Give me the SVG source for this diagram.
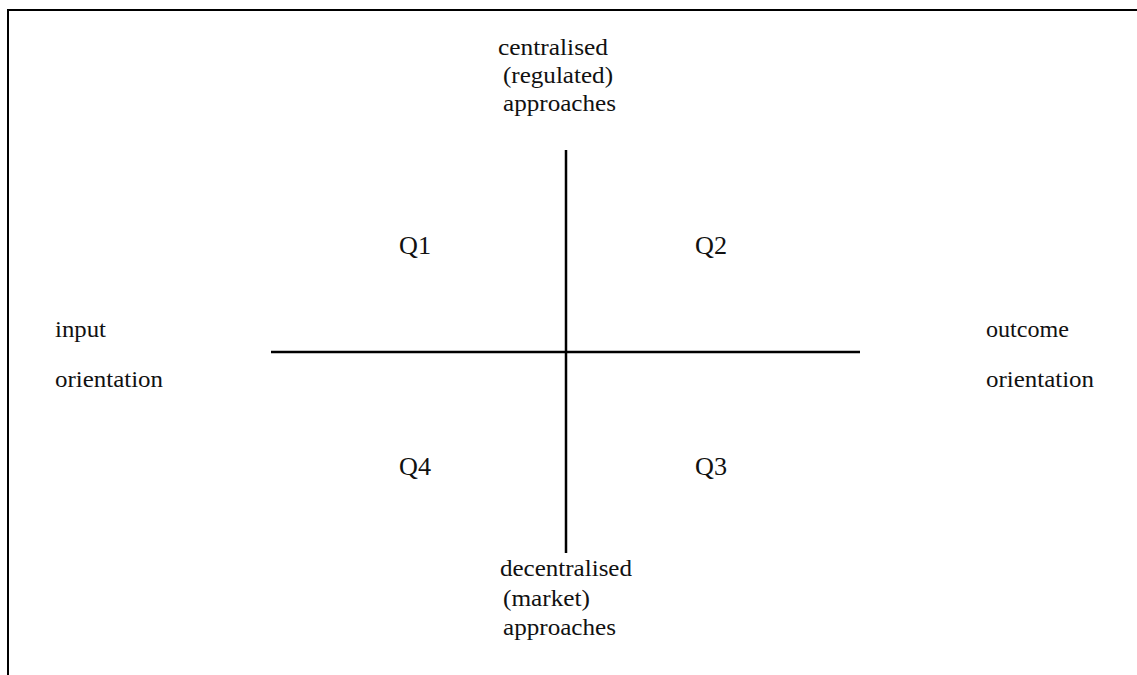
<svg xmlns="http://www.w3.org/2000/svg" width="1137" height="675" viewBox="0 0 1137 675">
<style>
.t{font-family:"Liberation Serif","Times New Roman",serif;font-size:24px;fill:#111}
.q{font-family:"Liberation Serif","Times New Roman",serif;font-size:26px;fill:#111}
.ln{stroke:#000;stroke-width:2.5;fill:none}
.fr{stroke:#000;stroke-width:2;fill:none}
</style>
<rect width="1137" height="675" fill="#fff"/>
<g id="frame">
<path class="fr" d="M8 675 V10 H1137"/>
</g>
<g id="connectors">
<line class="ln" x1="271" y1="352" x2="860" y2="352"/>
<line class="ln" x1="566" y1="150" x2="566" y2="553"/>
</g>
<g id="top-label">
<text class="t" x="498" y="55" textLength="110" lengthAdjust="spacingAndGlyphs">centralised</text>
<text class="t" x="503" y="83" textLength="110" lengthAdjust="spacingAndGlyphs">(regulated)</text>
<text class="t" x="503" y="111" textLength="113" lengthAdjust="spacingAndGlyphs">approaches</text>
</g>
<g id="bottom-label">
<text class="t" x="500" y="576" textLength="132" lengthAdjust="spacingAndGlyphs">decentralised</text>
<text class="t" x="503" y="606" textLength="87" lengthAdjust="spacingAndGlyphs">(market)</text>
<text class="t" x="503" y="635" textLength="113" lengthAdjust="spacingAndGlyphs">approaches</text>
</g>
<g id="left-label">
<text class="t" x="55" y="337" textLength="51" lengthAdjust="spacingAndGlyphs">input</text>
<text class="t" x="55" y="387" textLength="108" lengthAdjust="spacingAndGlyphs">orientation</text>
</g>
<g id="right-label">
<text class="t" x="986" y="337" textLength="83" lengthAdjust="spacingAndGlyphs">outcome</text>
<text class="t" x="986" y="387" textLength="108" lengthAdjust="spacingAndGlyphs">orientation</text>
</g>
<g id="Q1"><text class="q" x="399" y="254" textLength="32" lengthAdjust="spacingAndGlyphs">Q1</text></g>
<g id="Q2"><text class="q" x="695" y="254" textLength="32" lengthAdjust="spacingAndGlyphs">Q2</text></g>
<g id="Q3"><text class="q" x="695" y="475" textLength="32" lengthAdjust="spacingAndGlyphs">Q3</text></g>
<g id="Q4"><text class="q" x="399" y="475" textLength="32" lengthAdjust="spacingAndGlyphs">Q4</text></g>
</svg>
